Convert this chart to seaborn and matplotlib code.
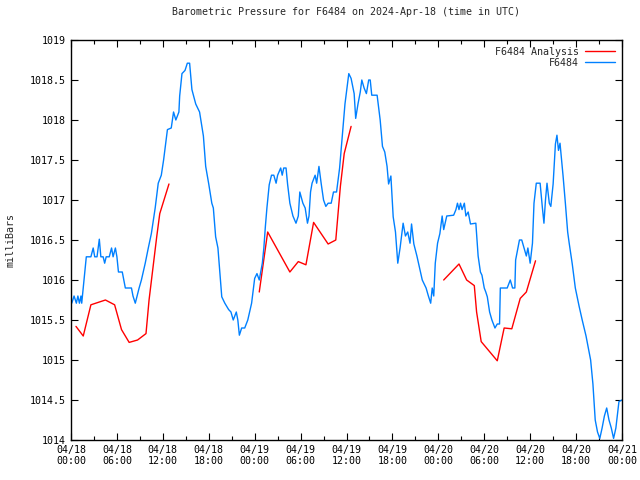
import numpy as np
import pandas as pd
import seaborn as sns
import matplotlib
matplotlib.use("Agg")
import matplotlib.pyplot as plt
import matplotlib.dates as mdates
from matplotlib.lines import Line2D

# hours after 2024-04-18 00:00 UTC
obs_hours = [0.1, 0.4, 0.7, 0.9, 1.1, 1.3, 1.4, 1.6, 1.8, 2.0, 2.6, 2.9, 3.1, 3.4, 3.7, 3.9,
             4.2, 4.4, 4.6, 5.0, 5.3, 5.5, 5.8, 6.0, 6.2, 6.7, 6.9, 7.1, 7.9, 8.1, 8.4, 8.9,
             9.2, 9.7, 10.1, 10.5, 11.0, 11.4, 11.8, 12.1, 12.6, 13.1, 13.4, 13.7, 14.1, 14.2,
             14.5, 14.9, 15.2, 15.5, 15.8, 16.3, 16.8, 17.1, 17.3, 17.6, 18.0, 18.4, 18.6, 18.9,
             19.2, 19.7, 20.1, 20.6, 20.9, 21.2, 21.6, 21.8, 22.0, 22.3, 22.7, 23.1, 23.6, 24.0,
             24.3, 24.6, 25.0, 25.2, 25.4, 25.6, 25.9, 26.2, 26.5, 26.8, 27.0, 27.4, 27.6, 27.8,
             28.1, 28.3, 28.6, 29.0, 29.4, 29.7, 29.9, 30.3, 30.6, 30.9, 31.1, 31.3, 31.5, 31.9,
             32.1, 32.4, 32.7, 33.0, 33.3, 33.6, 34.0, 34.3, 34.7, 35.1, 35.4, 35.8, 36.0, 36.3,
             36.6, 37.0, 37.2, 37.5, 37.8, 38.0, 38.3, 38.6, 38.9, 39.1, 39.3, 40.0, 40.4, 40.7,
             41.0, 41.3, 41.5, 41.8, 42.1, 42.4, 42.7, 43.0, 43.4, 43.7, 44.0, 44.3, 44.5, 44.8,
             45.2, 45.9, 46.4, 46.7, 47.0, 47.2, 47.4, 47.6, 47.9, 48.2, 48.5, 48.7, 49.1, 50.0,
             50.3, 50.5, 50.7, 50.9, 51.1, 51.4, 51.6, 51.9, 52.2, 52.9, 53.2, 53.5, 53.7, 54.0,
             54.2, 54.4, 54.7, 55.0, 55.4, 55.7, 56.0, 56.1, 57.0, 57.4, 57.7, 58.0, 58.1, 58.6,
             58.9, 59.2, 59.5, 59.7, 60.0, 60.3, 60.5, 60.8, 61.3, 61.6, 61.8, 62.0, 62.2, 62.5,
             62.7, 63.0, 63.3, 63.5, 63.7, 63.9, 64.3, 64.6, 64.9, 65.1, 65.5, 65.9, 66.4, 66.8,
             67.3, 67.9, 68.2, 68.5, 68.8, 69.1, 69.4, 69.7, 70.0, 70.3, 70.6, 70.9, 71.2, 71.6,
             72.0]
obs_mbar = [1015.71, 1015.8, 1015.71, 1015.8, 1015.71, 1015.8, 1015.71, 1015.9, 1016.1, 1016.29,
            1016.29, 1016.4, 1016.29, 1016.29, 1016.51, 1016.29, 1016.29, 1016.21, 1016.29, 1016.29,
            1016.4, 1016.29, 1016.4, 1016.29, 1016.1, 1016.1, 1016.0, 1015.9, 1015.9, 1015.8,
            1015.71, 1015.9, 1016.0, 1016.21, 1016.4, 1016.58, 1016.9, 1017.21, 1017.31, 1017.5,
            1017.88, 1017.9, 1018.1, 1018.0, 1018.1, 1018.3, 1018.58, 1018.62, 1018.71, 1018.71,
            1018.38, 1018.2, 1018.1, 1017.92, 1017.8, 1017.42, 1017.2, 1016.96, 1016.9, 1016.54,
            1016.4, 1015.79, 1015.71, 1015.63, 1015.6, 1015.5, 1015.6, 1015.5, 1015.31, 1015.4,
            1015.4, 1015.5, 1015.71, 1016.02, 1016.08, 1016.0, 1016.21, 1016.4, 1016.67, 1016.9,
            1017.19, 1017.31, 1017.31, 1017.21, 1017.31, 1017.4, 1017.31, 1017.4, 1017.4, 1017.2,
            1016.96, 1016.8, 1016.71, 1016.8, 1017.1, 1016.96, 1016.9, 1016.71, 1016.8, 1017.1,
            1017.21, 1017.31, 1017.21, 1017.42, 1017.2, 1017.0, 1016.92, 1016.96, 1016.96, 1017.1,
            1017.1, 1017.4, 1017.75, 1018.2, 1018.35, 1018.58, 1018.52, 1018.33, 1018.02, 1018.2,
            1018.35, 1018.5, 1018.4, 1018.33, 1018.5, 1018.5, 1018.31, 1018.31, 1018.0, 1017.67,
            1017.6, 1017.42, 1017.2, 1017.3, 1016.79, 1016.6, 1016.21, 1016.4, 1016.71, 1016.55,
            1016.6, 1016.46, 1016.7, 1016.45, 1016.3, 1016.0, 1015.9, 1015.8, 1015.71, 1015.9,
            1015.8, 1016.21, 1016.46, 1016.58, 1016.8, 1016.63, 1016.8, 1016.81, 1016.88, 1016.96,
            1016.88, 1016.96, 1016.88, 1016.96, 1016.8, 1016.85, 1016.7, 1016.71, 1016.3, 1016.1,
            1016.06, 1015.9, 1015.85, 1015.79, 1015.6, 1015.5, 1015.4, 1015.45, 1015.45, 1015.9,
            1015.9, 1016.0, 1015.9, 1015.9, 1016.25, 1016.5, 1016.5, 1016.4, 1016.3, 1016.4,
            1016.21, 1016.46, 1016.96, 1017.21, 1017.21, 1016.9, 1016.71, 1017.0, 1017.21, 1016.96,
            1016.92, 1017.2, 1017.7, 1017.81, 1017.62, 1017.71, 1017.3, 1016.96, 1016.6, 1016.46,
            1016.2, 1015.9, 1015.67, 1015.5, 1015.3, 1015.0, 1014.7, 1014.25, 1014.1, 1014.02,
            1014.15, 1014.3, 1014.4, 1014.25, 1014.15, 1014.02, 1014.15, 1014.48, 1014.5]

# analysis runs (three separate pieces)
ana_hours = [0.65, 1.6, 2.6, 4.5, 5.7, 6.6, 7.6, 8.7, 9.8, 10.2, 11.2, 11.6, 12.8,
             24.6, 25.7, 28.6, 29.7, 30.7, 31.7, 33.6, 34.6, 35.2, 35.7, 36.6,
             48.7, 50.7, 51.7, 52.7, 53.0, 53.6, 55.7, 56.6, 57.6, 58.7, 59.5, 60.7]
ana_mbar = [1015.42, 1015.3, 1015.69, 1015.75, 1015.69, 1015.38, 1015.22, 1015.25, 1015.33,
            1015.75, 1016.54, 1016.83, 1017.2,
            1015.85, 1016.6, 1016.1, 1016.23, 1016.19, 1016.72, 1016.45, 1016.5, 1017.17,
            1017.58, 1017.92,
            1016.0, 1016.2, 1016.0, 1015.93, 1015.6, 1015.23, 1014.99, 1015.4, 1015.39,
            1015.77, 1015.85, 1016.24]
ana_run = [1] * 13 + [2] * 11 + [3] * 12

start = pd.Timestamp("2024-04-18 00:00")
obs = pd.DataFrame({"time": start + pd.to_timedelta(obs_hours, unit="h"), "mbar": obs_mbar})
ana = pd.DataFrame({"time": start + pd.to_timedelta(ana_hours, unit="h"), "mbar": ana_mbar,
                    "run": ana_run})

sns.set_style("ticks")
plt.rcParams["font.family"] = ["DejaVu Sans Mono"]
plt.rcParams["font.size"] = 7

red = "#ff0000"
blue = "#0080ff"

fig = plt.figure(figsize=(6.4, 4.8), dpi=100)
ax = fig.add_axes([71 / 640, 40 / 480, 551 / 640, 400 / 480])

sns.lineplot(data=ana, x="time", y="mbar", units="run", estimator=None, color=red,
             linewidth=1.0, ax=ax, legend=False)
sns.lineplot(data=obs, x="time", y="mbar", color=blue, linewidth=1.0, ax=ax, legend=False)

ax.set_xlim(start, start + pd.Timedelta(hours=72))
ax.set_ylim(1014, 1019)
ax.set_yticks(np.arange(1014, 1019.01, 0.5))
ax.yaxis.set_major_formatter(plt.FuncFormatter(lambda v, p: f"{v:g}"))
ax.xaxis.set_major_locator(mdates.HourLocator(byhour=[0, 6, 12, 18]))
ax.xaxis.set_minor_locator(mdates.HourLocator(byhour=[3, 9, 15, 21]))
ax.xaxis.set_major_formatter(mdates.DateFormatter("%m/%d\n%H:%M"))
ax.tick_params(which="both", direction="in", top=True, right=True, colors="black",
               labelsize=7.2, width=0.8)
ax.tick_params(which="major", length=5)
ax.tick_params(which="minor", length=3)
for s in ax.spines.values():
    s.set_linewidth(1.0)
    s.set_color("black")

ax.set_xlabel("")
ax.set_ylabel("milliBars", fontsize=7.2)
ax.yaxis.set_label_coords(-0.1, 0.5)
ax.set_title("Barometric Pressure for F6484 on 2024-Apr-18 (time in UTC)", fontsize=7.2, pad=18)

handles = [Line2D([], [], color=red, lw=1.0), Line2D([], [], color=blue, lw=1.0)]
ax.legend(handles, ["F6484 Analysis", "F6484"], loc="upper right", frameon=False,
          markerfirst=False, handlelength=3.0, fontsize=7.2, labelspacing=0.1,
          borderaxespad=0.3, handletextpad=0.6)

fig.savefig("out.png", dpi=100)
